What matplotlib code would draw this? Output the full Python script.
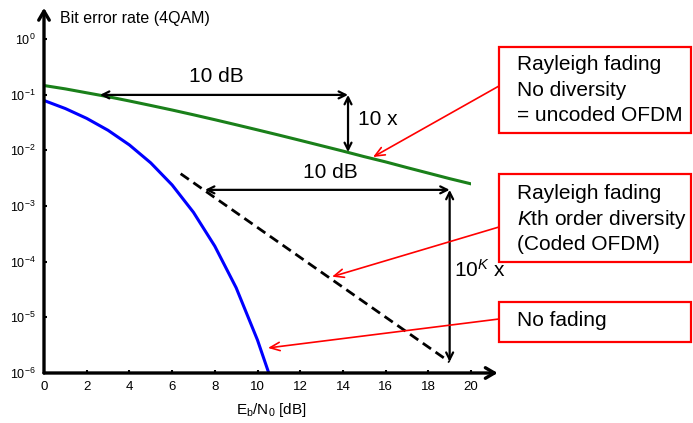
import matplotlib
matplotlib.use('Agg')
import matplotlib.pyplot as plt
from matplotlib.patches import Rectangle
from matplotlib.ticker import FixedLocator, NullLocator

plt.rcParams['font.family'] = ['Liberation Sans', 'DejaVu Sans']
plt.rcParams['mathtext.fontset'] = 'custom'
plt.rcParams['mathtext.rm'] = 'Liberation Sans'
plt.rcParams['mathtext.it'] = 'Liberation Sans:italic'
plt.rcParams['mathtext.default'] = 'regular'

# Rayleigh fading, no diversity (uncoded OFDM)
rayleigh_ebn0 = [0, 1, 2, 3, 4, 5, 6, 7, 8, 9, 10,
                 11, 12, 13, 14, 15, 16, 17, 18, 19, 20]
rayleigh_ber = [0.146, 0.127, 0.108, 0.092, 0.077, 0.064, 0.053, 0.0435,
                0.0355, 0.0288, 0.0233, 0.0188, 0.0151, 0.0121, 0.0097,
                0.0077, 0.0062, 0.0049, 0.0039, 0.0031, 0.0025]

# No fading (AWGN)
awgn_ebn0 = [0, 1, 2, 3, 4, 5, 6, 7, 8, 9, 10, 10.6]
awgn_ber = [0.0786, 0.0563, 0.0375, 0.0229, 0.0125, 0.00595, 0.00239,
            7.7e-4, 1.9e-4, 3.4e-5, 3.9e-6, 8.3e-7]

# Kth order diversity (coded OFDM), dashed asymptote
div_ebn0 = [6.4, 19.0]
div_ber = [3.8e-3, 1.58e-6]

x_ticks = list(range(0, 21, 2))
y_ticks = [1e-6, 1e-5, 1e-4, 1e-3, 1e-2, 1e-1, 1e0]

W, H = 693, 423
fig = plt.figure(figsize=(W / 100, H / 100), dpi=100)
ax = fig.add_axes([44 / W, 50 / H, 427 / W, 334 / H])

ax.semilogy(rayleigh_ebn0, rayleigh_ber, color='#1a801a', lw=2.2)
ax.semilogy(awgn_ebn0, awgn_ber, color='#0000ff', lw=2.2)
ax.semilogy(div_ebn0, div_ber, color='black', lw=2.0, dashes=(3.6, 2.0))

ax.set_xlim(0, 20)
ax.set_ylim(1e-6, 1)
ax.set_xticks(x_ticks)
ax.yaxis.set_major_locator(FixedLocator(y_ticks))
ax.yaxis.set_minor_locator(NullLocator())
ax.tick_params(direction='in', length=2, width=1.5, pad=6)
ax.tick_params(axis='x', labelsize=9.5)
ax.tick_params(axis='y', labelsize=9)
for s in ax.spines.values():
    s.set_visible(False)

# axis arrows
head = '->,head_length=0.65,head_width=0.38'
ax.annotate('', xy=(21.25, 1e-6), xytext=(0, 1e-6), annotation_clip=False,
            arrowprops=dict(arrowstyle=head, lw=2.4, color='black',
                            shrinkA=0, shrinkB=0))
ax.annotate('', xy=(0, 10 ** 0.56), xytext=(0, 1e-6), annotation_clip=False,
            arrowprops=dict(arrowstyle=head, lw=2.4, color='black',
                            shrinkA=0, shrinkB=0))

fig.text(60 / W, 1 - 18 / H, 'Bit error rate (4QAM)', fontsize=11.5,
         ha='left', va='center')
fig.text(271 / W, 1 - 410 / H, r'E$_\mathrm{b}$/N$_0$ [dB]', fontsize=11,
         ha='center', va='center')

# dimension arrows
dim = dict(arrowstyle='<->,head_length=0.5,head_width=0.25', lw=1.6,
           color='black', shrinkA=0, shrinkB=0)
ax.annotate('', xy=(2.62, 0.099), xytext=(14.24, 0.099), arrowprops=dim)
ax.annotate('', xy=(14.24, 0.099), xytext=(14.24, 0.0093), arrowprops=dim)
ax.annotate('', xy=(7.54, 10 ** -2.71), xytext=(19.0, 10 ** -2.71), arrowprops=dim)
ax.annotate('', xy=(19.0, 10 ** -2.71), xytext=(19.0, 10 ** -5.80), arrowprops=dim)

ax.text(8.06, 10 ** -0.67, '10 dB', fontsize=15, ha='center', va='center')
ax.text(14.7, 10 ** -1.45, '10 x', fontsize=15, ha='left', va='center')
ax.text(13.4, 10 ** -2.39, '10 dB', fontsize=15, ha='center', va='center')
ax.text(19.2, 10 ** -4.15, r'10$^{\mathit{K}}$ x', fontsize=15, ha='left',
        va='center', clip_on=False)

# callout boxes
boxes = [
    (47, 133, ['Rayleigh fading', 'No diversity', '= uncoded OFDM'], [64, 90, 115]),
    (174, 262, ['Rayleigh fading', r'$\mathit{K}$th order diversity', '(Coded OFDM)'],
     [193, 219, 245]),
    (302, 342, ['No fading'], [320]),
]
for top, bot, lines, ys in boxes:
    fig.patches.append(Rectangle((499 / W, 1 - bot / H), 192 / W, (bot - top) / H,
                                 transform=fig.transFigure, fill=False,
                                 edgecolor='#ff0000', lw=1.6))
    for txt, y in zip(lines, ys):
        fig.text(517 / W, 1 - y / H, txt, fontsize=15, ha='left', va='center')

red = dict(arrowstyle='->,head_length=0.7,head_width=0.3', lw=1.2,
           color='#ff0000', shrinkA=0, shrinkB=0)
ax.annotate('', xy=(15.41, 10 ** -2.12), xytext=(499 / W, 1 - 86 / H),
            textcoords='figure fraction', arrowprops=red, annotation_clip=False)
ax.annotate('', xy=(13.49, 10 ** -4.27), xytext=(499 / W, 1 - 227 / H),
            textcoords='figure fraction', arrowprops=red, annotation_clip=False)
ax.annotate('', xy=(10.49, 10 ** -5.55), xytext=(499 / W, 1 - 319 / H),
            textcoords='figure fraction', arrowprops=red, annotation_clip=False)

fig.savefig('out.png', dpi=100)
